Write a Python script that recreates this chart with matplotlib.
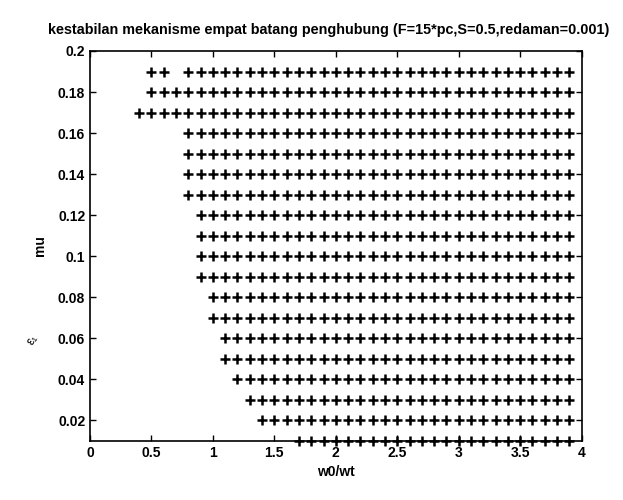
import matplotlib
matplotlib.use("Agg")
import matplotlib.pyplot as plt

plt.rcParams['font.family'] = ['Liberation Sans', 'DejaVu Sans']

# w0/wt grid values (x)
w_grid = [0.4, 0.5, 0.6, 0.7, 0.8, 0.9, 1.0, 1.1, 1.2, 1.3, 1.4, 1.5, 1.6, 1.7,
          1.8, 1.9, 2.0, 2.1, 2.2, 2.3, 2.4, 2.5, 2.6, 2.7, 2.8, 2.9, 3.0, 3.1,
          3.2, 3.3, 3.4, 3.5, 3.6, 3.7, 3.8, 3.9]
# mu rows and the smallest stable w0/wt in each row
mu_rows   = [0.19, 0.18, 0.17, 0.16, 0.15, 0.14, 0.13, 0.12, 0.11, 0.10,
             0.09, 0.08, 0.07, 0.06, 0.05, 0.04, 0.03, 0.02, 0.01]
row_start = [0.5, 0.5, 0.4, 0.8, 0.8, 0.8, 0.8, 0.9, 0.9, 0.9,
             0.9, 1.0, 1.0, 1.1, 1.1, 1.2, 1.3, 1.4, 1.7]
# isolated unstable points inside the stable region: (mu, w)
gaps = [(0.19, 0.7)]

xticks = [0, 0.5, 1, 1.5, 2, 2.5, 3, 3.5, 4]
xticklabels = ['0', '0.5', '1', '1.5', '2', '2.5', '3', '3.5', '4']
yticks = [0.02, 0.04, 0.06, 0.08, 0.1, 0.12, 0.14, 0.16, 0.18, 0.2]
yticklabels = ['0.02', '0.04', '0.06', '0.08', '0.1', '0.12', '0.14', '0.16', '0.18', '0.2']

xs, ys = [], []
for mu, s in zip(mu_rows, row_start):
    for w in w_grid:
        if w >= s - 1e-9 and not any(abs(g[0] - mu) < 1e-9 and abs(g[1] - w) < 1e-9 for g in gaps):
            xs.append(w)
            ys.append(mu)

fig = plt.figure(figsize=(6.23, 5.0), dpi=100)
ax = fig.add_axes([0.1445, 0.118, 0.789, 0.780])
ax.plot(xs, ys, linestyle='none', marker='+', markersize=7, markeredgewidth=1.8,
        color='black', clip_on=False)
ax.set_xlim(0, 4)
ax.set_ylim(0.01, 0.2)
ax.set_xticks(xticks)
ax.set_xticklabels(xticklabels)
ax.set_yticks(yticks)
ax.set_yticklabels(yticklabels)
ax.tick_params(direction='in', top=True, right=True, length=4, width=1, labelsize=10)
for lab in ax.get_xticklabels() + ax.get_yticklabels():
    lab.set_fontweight('bold')
for sp in ax.spines.values():
    sp.set_linewidth(1.2)
ax.set_xlabel('w0/wt', fontsize=10, fontweight='bold', labelpad=4)
ax.set_ylabel('mu', fontsize=10, fontweight='bold', labelpad=8)
fig.text(0.528, 0.94,
         'kestabilan mekanisme empat batang penghubung (F=15*pc,S=0.5,redaman=0.001)',
         fontsize=10.4, fontweight='bold', ha='center', va='center')
fig.text(0.052, 0.32, 'ε₁', rotation=60, fontsize=9, ha='center', va='center')
fig.savefig('out.png', dpi=100)
